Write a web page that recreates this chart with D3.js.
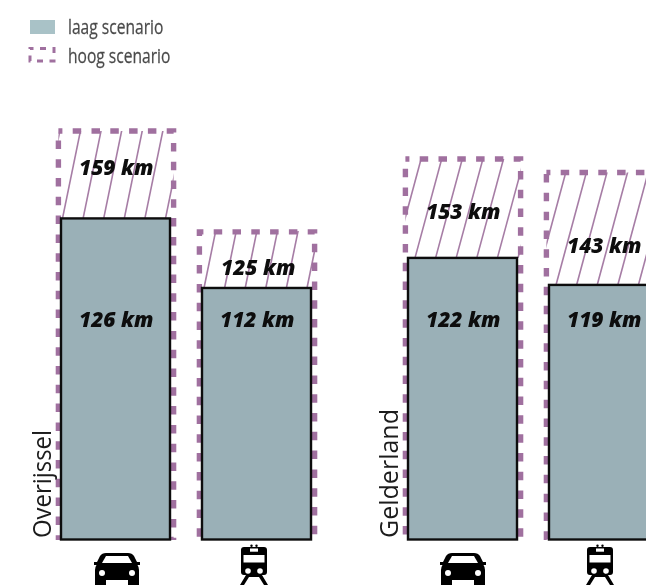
<!DOCTYPE html>
<html><head><meta charset="utf-8">
<script src="https://cdn.jsdelivr.net/npm/d3@7"></script>
<style>html,body{margin:0;padding:0;background:#fff}svg{display:block}</style>
</head><body><div id="c"></div>
<script>
const regions = ["Overijssel", "Gelderland"];
const modes = ["auto", "trein"];
const legendLabels = ["laag scenario", "hoog scenario"];
// printed labels
const lowLabels = ["126 km", "112 km", "122 km", "119 km"];
const highLabels = ["159 km", "125 km", "153 km", "143 km"];
// drawn heights (bars are not strictly proportional to labels)
const lowValues = [126, 98.7, 110.5, 99.9];
const highValues = [160.3, 120.7, 149.3, 144];

const W = 646, H = 585;
const svg = d3.select("#c").append("svg").attr("width", W).attr("height", H);
const LOW = "#9ab0b7", LEG = "#a9c2c7", PUR = "#a0709f", HATCH = "#a67da5";

const y = d3.scaleLinear().domain([0, 160.3]).range([539.5, 131]);
const xGroup = d3.scalePoint().domain(regions).range([61, 408]);
const xMode = d3.scalePoint().domain(modes).range([0, 141]);
const barW = 109, pad = 2.6;
const slopes = [0.205, 0.205, 0.27, 0.27];
const phases = [1.5, 2, 7, 7];
const highDy = [44, 43, 60, 80];
const iconX = [[117, 254], [463, 600]];
const regionLen = [108, 129];

const bars = [];
regions.forEach((r, i) => modes.forEach((m, j) => {
  const k = i * 2 + j;
  bars.push({k, r, m, i, j, low: lowValues[k], high: highValues[k], ll: lowLabels[k], hl: highLabels[k],
    x: xGroup(r) + xMode(m)});
}));

const defs = svg.append("defs");
bars.forEach(d => {
  defs.append("clipPath").attr("id", "cl" + d.k).append("rect")
    .attr("x", d.x - pad).attr("y", y(d.high)).attr("width", barW + 2 * pad + 1).attr("height", y(0) - y(d.high));
});
defs.append("clipPath").attr("id", "base").append("rect")
  .attr("x", 0).attr("y", 0).attr("width", W).attr("height", y(0) + 0.5);
const blur = defs.append("filter").attr("id", "soft");
blur.append("feGaussianBlur").attr("stdDeviation", 0.35);

const root = svg.append("g").attr("filter", "url(#soft)");

// hatching
bars.forEach(d => {
  const g = root.append("g").attr("clip-path", `url(#cl${d.k})`);
  const y0 = y(d.low), y1 = y(d.high) - 4;
  const dx = (y0 - y1) * slopes[d.k];
  g.selectAll("line").data(d3.range(-6, 7)).join("line")
    .attr("x1", n => d.x + phases[d.k] + n * 20.6)
    .attr("x2", n => d.x + phases[d.k] + n * 20.6 + dx)
    .attr("y1", y0).attr("y2", y1)
    .attr("stroke", HATCH).attr("stroke-width", 1.6);
});

// dashed high outline
root.append("g").attr("clip-path", "url(#base)")
  .selectAll("rect.high").data(bars).join("rect").attr("class", "high")
  .attr("x", d => d.x - pad).attr("y", d => y(d.high))
  .attr("width", barW + 2 * pad + 1).attr("height", d => y(0) - y(d.high))
  .attr("fill", "none").attr("stroke", PUR).attr("stroke-width", 5.4)
  .attr("stroke-dasharray", "8.5 10.3").attr("stroke-dashoffset", 4.5);

// low bars
root.selectAll("rect.low").data(bars).join("rect").attr("class", "low")
  .attr("x", d => d.x).attr("y", d => y(d.low))
  .attr("width", barW).attr("height", d => y(0) - y(d.low))
  .attr("fill", LOW).attr("stroke", "#111").attr("stroke-width", 2.4);

// value labels
const lab = (sel) => sel.attr("text-anchor", "middle")
  .style("font-family", "'Open Sans'").style("font-weight", 800).style("font-style", "italic")
  .style("font-size", "21px").attr("fill", "#0a0a0a");
root.selectAll("text.ll").data(bars).join("text").attr("class", "ll")
  .attr("x", d => d.x + barW / 2 + 0.7).attr("y", 327).text(d => d.ll).call(lab);
root.selectAll("text.hl").data(bars).join("text").attr("class", "hl")
  .attr("x", d => d.x + barW / 2 + 0.7 + (d.k === 1 ? 1 : 0)).attr("y", d => y(d.high) + highDy[d.k]).text(d => d.hl).call(lab);

// region labels
root.selectAll("text.reg").data(regions).join("text").attr("class", "reg")
  .attr("transform", (r, i) => `translate(${[51, 398][i]},538) rotate(-90)`)
  .attr("textLength", (r, i) => regionLen[i]).attr("lengthAdjust", "spacingAndGlyphs")
  .style("font-family", "'Open Sans'").style("font-size", "25px").attr("fill", "#1a1a1a").text(r => r);

// legend
root.append("rect").attr("x", 30).attr("y", 20).attr("width", 25).attr("height", 14).attr("fill", LEG);
root.append("rect").attr("x", 30).attr("y", 48.5).attr("width", 24).attr("height", 12.5)
  .attr("fill", "none").attr("stroke", PUR).attr("stroke-width", 3)
  .attr("stroke-dasharray", "6 6.5").attr("stroke-dashoffset", 2.5);
root.selectAll("text.leg").data(legendLabels).join("text").attr("class", "leg")
  .attr("transform", (t, i) => `translate(68,${[34, 63][i]}) scale(0.8,1)`)
  .style("font-family", "'Open Sans'").style("font-size", "19.5px").attr("fill", "#4a4a4a")
  .attr("stroke", "#4a4a4a").attr("stroke-width", 0.25).text(t => t);

// icons
const carPath = "M-11,0H11Q15,0 17,3L20,9H23V12H20.5Q22,14 22,17V32H-22V17Q-22,14 -20.5,12H-23V9H-20L-17,3Q-15,0 -11,0Z";
const trainPath = "M-10,2H10Q13,2 13,5V27Q13,30 10,30H8L14,40H10L5,32H-5L-10,40H-14L-8,30H-10Q-13,30 -13,27V5Q-13,2 -10,2Z";
iconX.forEach(([cx, tx]) => {
  const c = root.append("g").attr("transform", `translate(${cx},553)`);
  c.append("path").attr("d", carPath).attr("fill", "#000");
  c.append("path").attr("d", "M-11,3H11L15,10H-15Z").attr("fill", "#fff");
  c.selectAll("circle").data([-15, 15]).join("circle").attr("cx", v => v).attr("cy", 20).attr("r", 3).attr("fill", "#fff");
  c.append("rect").attr("x", -11).attr("y", 27).attr("width", 22).attr("height", 6).attr("fill", "#fff");
  const t = root.append("g").attr("transform", `translate(${tx},545)`);
  t.selectAll("circle.p").data([-2.5, 2.5]).join("circle").attr("class", "p").attr("cx", v => v).attr("cy", 0.8).attr("r", 1.2).attr("fill", "#000");
  t.append("path").attr("d", trainPath).attr("fill", "#000");
  t.append("rect").attr("x", -4).attr("y", 3.5).attr("width", 8).attr("height", 3.2).attr("fill", "#fff");
  t.append("rect").attr("x", -10.5).attr("y", 10).attr("width", 21).attr("height", 7.5).attr("fill", "#fff");
  t.selectAll("circle.w").data([-6, 6]).join("circle").attr("class", "w").attr("cx", v => v).attr("cy", 26).attr("r", 2.8).attr("fill", "#fff");
});
</script>
</body></html>
